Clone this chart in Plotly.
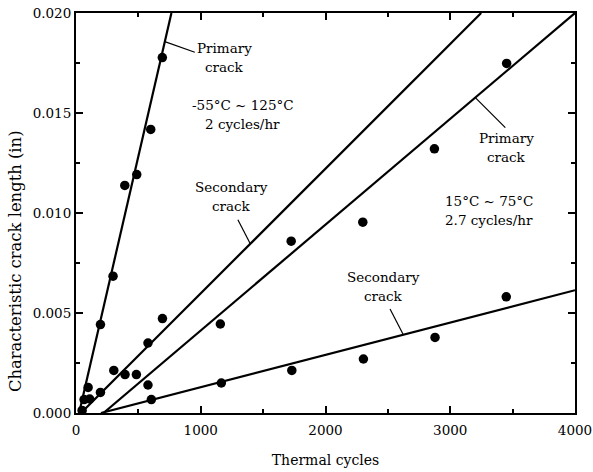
import plotly.graph_objects as go

# Measured crack lengths (in) versus thermal cycles
fast_primary_x = [65, 97, 196, 297, 391, 487, 599, 692]
fast_primary_y = [0.00067, 0.00128, 0.00442, 0.00684, 0.01138, 0.01192, 0.01418, 0.01777]
fast_secondary_x = [49, 110, 196, 303, 393, 484, 577, 693]
fast_secondary_y = [0.00013, 0.00070, 0.00103, 0.00213, 0.00192, 0.00192, 0.00350, 0.00472]
slow_primary_x = [577, 1157, 1725, 2299, 2873, 3452]
slow_primary_y = [0.00140, 0.00445, 0.00859, 0.00954, 0.01321, 0.01748]
slow_secondary_x = [604, 1165, 1730, 2304, 2878, 3449]
slow_secondary_y = [0.00067, 0.00150, 0.00213, 0.00270, 0.00378, 0.00581]

# Linear growth fits (end points in cycles / inches)
fit_fast_primary = ([25, 765], [0.0, 0.020])
fit_fast_secondary = ([40, 3248], [0.0, 0.020])
fit_slow_primary = ([220, 4000], [0.0, 0.020])
fit_slow_secondary = ([200, 4000], [0.0, 0.00614])

x_ticks = [0, 1000, 2000, 3000, 4000]
y_ticks = [0.000, 0.005, 0.010, 0.015, 0.020]

FONT = "DejaVu Serif"


def on_line(fit, x):
    (x0, x1), (y0, y1) = fit
    return y0 + (y1 - y0) * (x - x0) / (x1 - x0)


fig = go.Figure()

for fx, fy in [fit_fast_primary, fit_fast_secondary, fit_slow_primary, fit_slow_secondary]:
    fig.add_trace(go.Scatter(x=fx, y=fy, mode="lines",
                             line=dict(color="black", width=2.2),
                             showlegend=False, hoverinfo="skip"))

for px, py in [(fast_primary_x, fast_primary_y), (fast_secondary_x, fast_secondary_y),
               (slow_primary_x, slow_primary_y), (slow_secondary_x, slow_secondary_y)]:
    fig.add_trace(go.Scatter(x=px, y=py, mode="markers",
                             marker=dict(color="black", size=9.5, line=dict(width=0)),
                             showlegend=False))

# Two-line text labels: (upper line, lower line, x, y of block centre)
labels = [
    ("Primary", "crack", 1191, 0.01779),
    ("-55°C ~ 125°C", "2 cycles/hr", 1337, 0.01493),
    ("Secondary", "crack", 1245, 0.01083),
    ("Primary", "crack", 3452, 0.01328),
    ("15°C ~ 75°C", "2.7 cycles/hr", 3313, 0.01013),
    ("Secondary", "crack", 2464, 0.00633),
]
for upper, lower, x, y in labels:
    for text, shift in ((upper, 9.5), (lower, -9.5)):
        fig.add_annotation(x=x, y=y, text=text, showarrow=False, yshift=shift,
                           font=dict(family=FONT, size=13.5, color="black"),
                           xanchor="center", yanchor="middle", align="center")

# Vertical axis title, set a little below the plot centre
fig.add_annotation(xref="paper", yref="paper", x=-0.122, y=0.38,
                   text="Characteristic crack length (in)", textangle=-90,
                   showarrow=False, xanchor="center", yanchor="middle",
                   font=dict(family=FONT, size=16.4, color="black"))

# Leader lines from each fit line toward its label (pixel offsets)
leaders = [
    (fit_fast_primary, 712, 30, -10.6),
    (fit_fast_secondary, 1397, -12.4, 24),
    (fit_slow_primary, 3201, 30, -30),
    (fit_slow_secondary, 2624, -13.3, 25.7),
]
for fit, ax_x, dx, dy in leaders:
    fig.add_shape(type="line", xref="x", yref="y",
                  xsizemode="pixel", ysizemode="pixel",
                  xanchor=ax_x, yanchor=on_line(fit, ax_x),
                  x0=0, y0=0, x1=dx, y1=dy,
                  line=dict(color="black", width=1.2))

axis_common = dict(
    showline=True, linecolor="black", linewidth=2, mirror="allticks",
    ticks="inside", ticklen=7, tickwidth=1.5, tickcolor="black",
    showgrid=False, zeroline=False, automargin=False,
    tickfont=dict(family=FONT, size=13.5, color="black"),
)

fig.update_xaxes(range=[0, 4000], tickvals=x_ticks, ticklabelstandoff=4,
                 minor=dict(dtick=500, ticks="inside", ticklen=4, tickwidth=1.5, tickcolor="black"),
                 title=dict(text="Thermal cycles", font=dict(family=FONT, size=14, color="black"), standoff=18),
                 **axis_common)
fig.update_yaxes(range=[0, 0.020], tickvals=y_ticks, tickformat=".3f",
                 minor=dict(dtick=0.0025, ticks="inside", ticklen=4, tickwidth=1.5, tickcolor="black"),
                 **axis_common)

fig.update_layout(
    width=593, height=472,
    margin=dict(l=76, r=18, t=13, b=59),
    paper_bgcolor="white", plot_bgcolor="white",
    font=dict(family=FONT, color="black"),
)

fig.write_html("out.html")
